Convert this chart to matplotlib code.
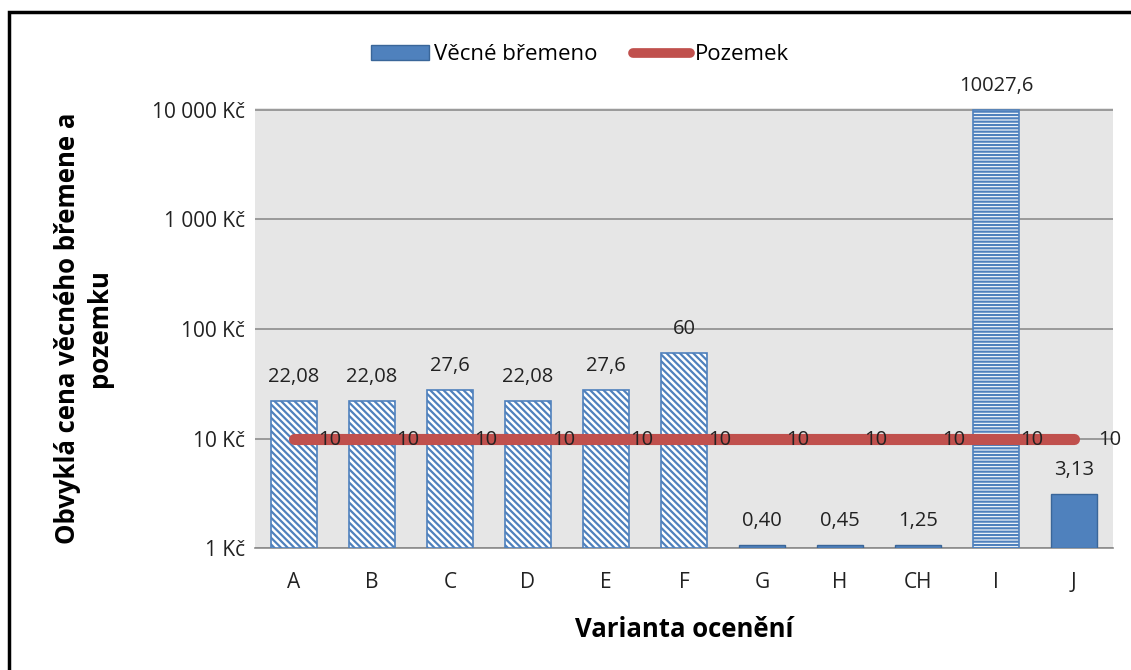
import matplotlib
matplotlib.use("Agg")
import matplotlib.pyplot as plt
import numpy as np
from matplotlib.patches import Rectangle, Patch
from matplotlib.lines import Line2D
from matplotlib.ticker import FixedLocator, FixedFormatter, NullLocator

plt.rcParams["font.family"] = ["Open Sans", "DejaVu Sans"]
plt.rcParams["hatch.linewidth"] = 1.6

# data
categories = ["A", "B", "C", "D", "E", "F", "G", "H", "CH", "I", "J"]
vecne_bremeno = [22.08, 22.08, 27.6, 22.08, 27.6, 60, 0.40, 0.45, 1.25, 10027.6, 3.13]
vecne_labels = ["22,08", "22,08", "27,6", "22,08", "27,6", "60",
                "0,40", "0,45", "1,25", "10027,6", "3,13"]
pozemek = [10, 10, 10, 10, 10, 10, 10, 10, 10, 10, 10]
hatches = ["\\\\\\\\\\"] * 6 + [""] * 3 + ["-----", ""]
ytick_vals = [1, 10, 100, 1000, 10000]
ytick_labels = ["1 Kč", "10 Kč", "100 Kč", "1 000 Kč", "10 000 Kč"]

BLUE = "#4F81BD"
RED = "#C0504D"
TXT = "#222222"

fig = plt.figure(figsize=(11.31, 6.70), dpi=100)
ax = fig.add_axes([0.2255, 0.182, 0.7585, 0.657])
ax.set_facecolor("#E6E6E6")

x = np.arange(len(categories))
# Excel draws the small values on the log axis as thin stubs at the bottom
drawn = np.where(np.array(vecne_bremeno) < 1.5, 1.065, vecne_bremeno)

for xi, h, hatch in zip(x, drawn, hatches):
    if hatch:
        ax.bar(xi, h - 1, width=0.59, bottom=1, color="white", edgecolor=BLUE,
               hatch=hatch, linewidth=1.2, zorder=3)
    else:
        ax.bar(xi, h - 1, width=0.59, bottom=1, color=BLUE, edgecolor="#3A6699",
               linewidth=1.0, zorder=3)

ax.plot(x, pozemek, color=RED, linewidth=8, solid_capstyle="round", zorder=4)

ax.set_yscale("log")
ax.set_ylim(1, 10450)
ax.set_xlim(-0.5, len(categories) - 0.5)

for xi, h, lab in zip(x, drawn, vecne_labels):
    ax.annotate(lab, (xi, min(h, 10000)), xytext=(0, 10), textcoords="offset points",
                ha="center", va="bottom", fontsize=14.5, color=TXT, zorder=5,
                annotation_clip=False)

for xi, v in zip(x, pozemek):
    ax.annotate(str(v), (xi, v), xytext=(26, -1), textcoords="offset points",
                ha="center", va="center", fontsize=14.5, color=TXT, zorder=5,
                annotation_clip=False)

ax.yaxis.set_major_locator(FixedLocator(ytick_vals))
ax.yaxis.set_major_formatter(FixedFormatter(ytick_labels))
ax.yaxis.set_minor_locator(NullLocator())
ax.set_xticks(x)
ax.set_xticklabels(categories)
ax.tick_params(axis="y", length=0, labelsize=15, pad=7, colors=TXT)
ax.tick_params(axis="x", length=0, labelsize=15, pad=17, colors=TXT)
ax.grid(axis="y", color="#8C8C8C", linewidth=1.2, zorder=1)
ax.set_axisbelow(True)
for side in ["top", "right", "left"]:
    ax.spines[side].set_visible(False)
ax.spines["bottom"].set_color("#8C8C8C")
ax.spines["bottom"].set_linewidth(1.2)

ax.set_xlabel("Varianta ocenění", fontsize=18.5, fontweight="bold", labelpad=17)
ax.set_ylabel("Obvyklá cena věcného břemene a\npozemku", fontsize=18.5,
              fontweight="bold", labelpad=28, linespacing=1.25)

handles = [Patch(facecolor=BLUE, edgecolor="#3A6699", label="Věcné břemeno"),
           Line2D([0], [0], color=RED, linewidth=7, solid_capstyle="round", label="Pozemek")]
fig.legend(handles=handles, loc="center", bbox_to_anchor=(0.513, 0.918), ncol=2,
           frameon=False, fontsize=16, handlelength=2.6, handletextpad=0.2,
           columnspacing=1.6)

fig.patches.append(Rectangle((0.008, -0.1), 1.2, 1.082, transform=fig.transFigure,
                             fill=False, edgecolor="black", linewidth=2.5))

fig.savefig("out.png", dpi=100)
